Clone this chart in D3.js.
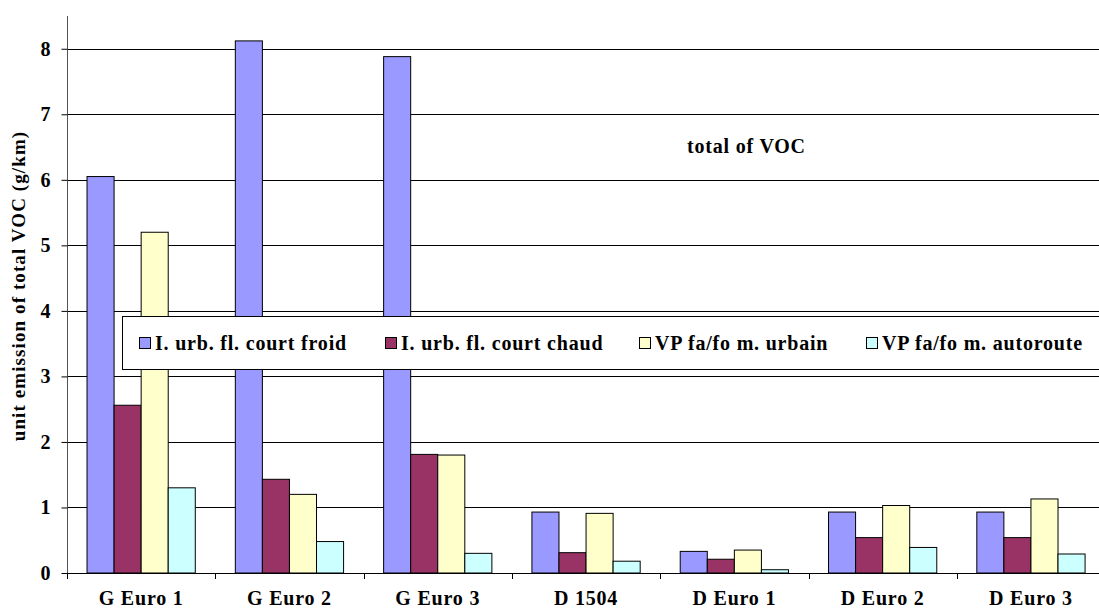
<!DOCTYPE html>
<html>
<head>
<meta charset="utf-8">
<script src="https://cdn.jsdelivr.net/npm/d3@7"></script>
<style>
  body { margin: 0; background: #fff; }
  svg text { font-family: 'Liberation Serif', 'Times New Roman', serif; font-weight: bold; }
</style>
</head>
<body>
<div class="chart"></div>
<script>
var svgWidth = 1099;
var svgHeight = 610;

// data
var categories = ["G Euro 1", "G Euro 2", "G Euro 3", "D 1504", "D Euro 1", "D Euro 2", "D Euro 3"];
var seriesNames = ["I. urb. fl. court froid", "I. urb. fl. court chaud", "VP fa/fo m. urbain", "VP fa/fo m. autoroute"];
var seriesColors = ["#9999FF", "#993366", "#FFFFCC", "#CCFFFF"];
var froid = [6.05, 8.12, 7.88, 0.93, 0.33, 0.93, 0.93];
var chaud = [2.56, 1.43, 1.81, 0.31, 0.21, 0.54, 0.54];
var urbain = [5.20, 1.20, 1.80, 0.91, 0.35, 1.03, 1.13];
var autoroute = [1.30, 0.48, 0.30, 0.18, 0.05, 0.39, 0.29];
var yTicks = [0, 1, 2, 3, 4, 5, 6, 7, 8];

var seriesValues = [froid, chaud, urbain, autoroute];

var margin = { top: 16, left: 67 };
var plotBottom = 573;
var catStep = 148.3;
var plotRight = margin.left + categories.length * catStep;

var svg = d3.select(".chart")
  .append("svg")
  .attr("width", svgWidth)
  .attr("height", svgHeight);

var xScale = d3.scaleBand()
  .domain(categories)
  .range([margin.left, plotRight])
  .paddingInner(0.27)
  .paddingOuter(0.135);

var xInner = d3.scaleBand()
  .domain(d3.range(seriesNames.length))
  .range([0, xScale.bandwidth()]);

var yScale = d3.scaleLinear()
  .domain([0, 8.5])
  .range([plotBottom, margin.top]);

// gridlines
svg.append("g")
  .selectAll("line")
  .data(yTicks.filter(d => d > 0))
  .enter()
  .append("line")
  .attr("x1", margin.left)
  .attr("x2", plotRight)
  .attr("y1", d => Math.round(yScale(d)) + 0.5)
  .attr("y2", d => Math.round(yScale(d)) + 0.5)
  .attr("stroke", "#000")
  .attr("stroke-width", 1);

// bars
var rows = [];
categories.forEach((c, i) => {
  seriesValues.forEach((vals, s) => {
    rows.push({ cat: c, s: s, v: vals[i] });
  });
});

svg.append("g")
  .selectAll("rect")
  .data(rows)
  .enter()
  .append("rect")
  .attr("x", d => xScale(d.cat) + xInner(d.s))
  .attr("y", d => yScale(d.v))
  .attr("width", xInner.bandwidth())
  .attr("height", d => plotBottom - yScale(d.v))
  .attr("fill", d => seriesColors[d.s])
  .attr("stroke", "#000")
  .attr("stroke-width", 1);

// y axis
var leftAxis = d3.axisLeft(yScale)
  .tickValues(yTicks)
  .tickSize(6)
  .tickPadding(11)
  .tickFormat(d3.format("d"));

var yAxis = svg.append("g")
  .attr("transform", `translate(${margin.left + 0.5},0)`)
  .call(leftAxis)
  .attr("font-size", 20);
yAxis.select(".domain").attr("d", `M0,${margin.top}V${plotBottom}`).attr("stroke", "#555");
yAxis.selectAll("text").attr("fill", "#000");

// x axis
var bottomAxis = d3.axisBottom(xScale).tickSize(0).tickPadding(17);
var xAxis = svg.append("g")
  .attr("transform", `translate(0,${plotBottom + 0.5})`)
  .call(bottomAxis)
  .attr("font-size", 20);
xAxis.select(".domain").attr("d", `M${margin.left},0H${plotRight}`).attr("stroke", "#000");
xAxis.selectAll("text").attr("fill", "#000").attr("letter-spacing", "0.8px");

// category separators
svg.append("g")
  .selectAll("line")
  .data(d3.range(categories.length + 1))
  .enter()
  .append("line")
  .attr("x1", i => Math.round(margin.left + i * catStep) + 0.5)
  .attr("x2", i => Math.round(margin.left + i * catStep) + 0.5)
  .attr("y1", plotBottom)
  .attr("y2", plotBottom + 6)
  .attr("stroke", "#000");

// y axis title
svg.append("text")
  .attr("transform", "translate(25, 286) rotate(-90)")
  .attr("text-anchor", "middle")
  .attr("font-size", 19)
  .attr("letter-spacing", "1.1px")
  .text("unit emission of total VOC (g/km)");

// annotation
svg.append("text")
  .attr("x", 687)
  .attr("y", 153)
  .attr("font-size", 20)
  .attr("letter-spacing", "0.8px")
  .text("total of VOC");

// legend
var legend = svg.append("g");
legend.append("rect")
  .attr("x", 122.5)
  .attr("y", 316.5)
  .attr("width", 1000)
  .attr("height", 53)
  .attr("fill", "#fff")
  .attr("stroke", "#000");

var legendX = [139.5, 385.5, 639.5, 866.5];
var items = legend.selectAll(".item")
  .data(seriesNames)
  .enter()
  .append("g")
  .attr("transform", (d, i) => `translate(${legendX[i]},343)`);

items.append("rect")
  .attr("x", 0)
  .attr("y", -5.5)
  .attr("width", 11)
  .attr("height", 11)
  .attr("fill", (d, i) => seriesColors[i])
  .attr("stroke", "#000");

items.append("text")
  .attr("x", 15.5)
  .attr("y", 7)
  .attr("font-size", 20)
  .attr("letter-spacing", "0.8px")
  .text(d => d);
</script>
</body>
</html>
